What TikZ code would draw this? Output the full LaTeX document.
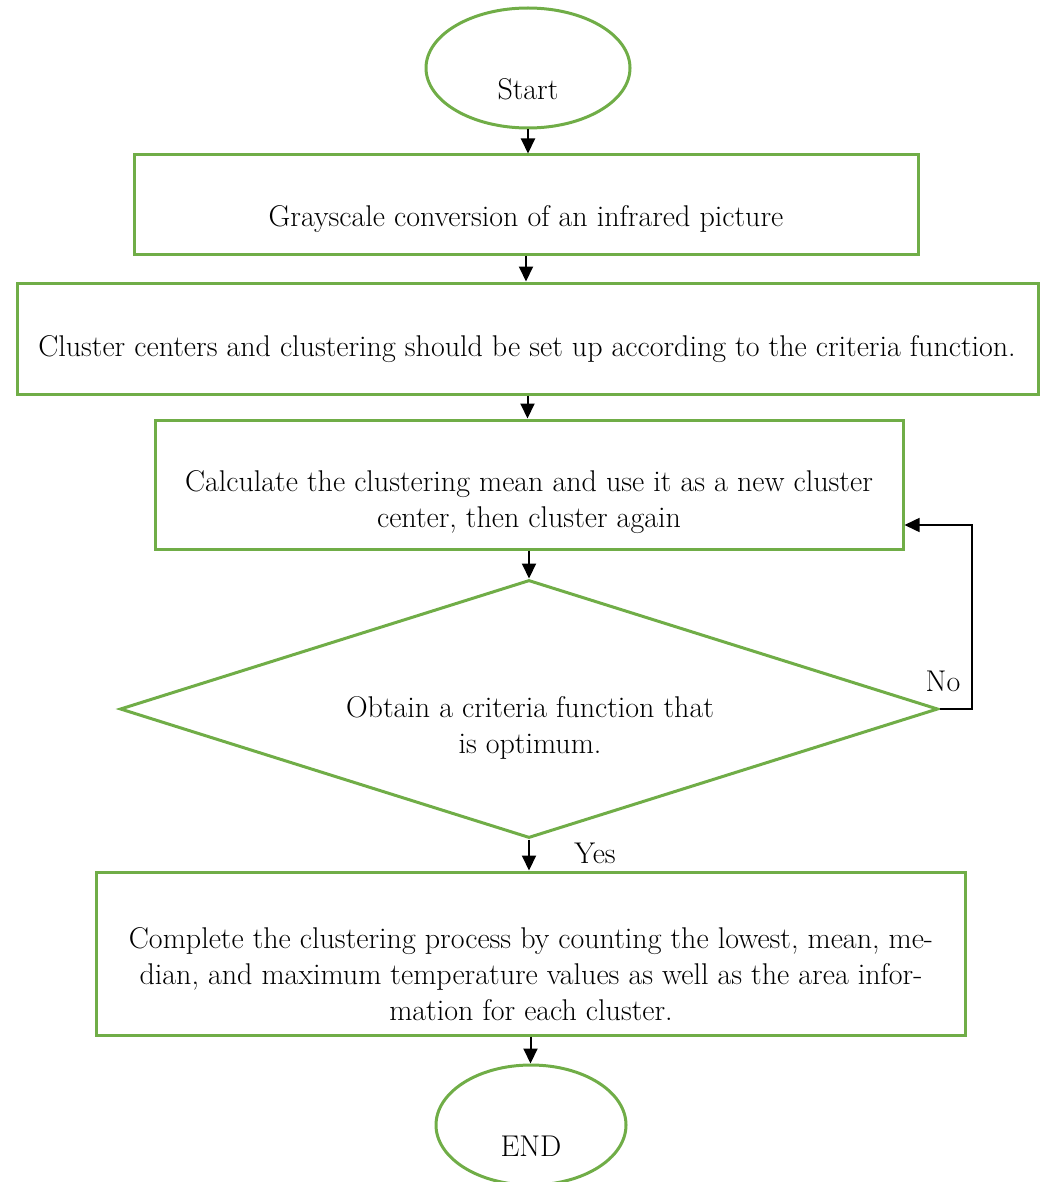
\documentclass[tikz,border=0pt]{standalone}
\usepackage{fontspec}
\usetikzlibrary{arrows.meta,shapes.geometric}
\definecolor{flowgreen}{RGB}{112,173,71}
\tikzstyle{terminal}=[ellipse,draw=flowgreen,line width=3pt,inner sep=0pt]
\tikzstyle{stepbox}=[rectangle,draw=flowgreen,line width=3pt,inner sep=0pt]
\tikzstyle{decision}=[diamond,draw=flowgreen,line width=3pt,inner sep=0pt]
\tikzstyle{txt}=[font=\fontsize{30}{36}\selectfont,align=center,inner sep=0pt]
\tikzstyle{flow} = [draw,line width=2pt,-{Triangle[length=15pt,width=14pt]}]
\tikzstyle{loopline} = [draw,line width=1.6pt,-{Triangle[length=15pt,width=14pt]}]

\begin{document}
\begin{tikzpicture}[x=1pt,y=-1pt]
    \useasboundingbox (0,0) rectangle (1043,1182);

    % shapes
    \node[terminal,minimum width=204pt,minimum height=120pt] (start) at (528,68) {};
    \node[stepbox,minimum width=784pt,minimum height=99pt] (gray) at (526,204.5) {};
    \node[stepbox,minimum width=1021pt,minimum height=111pt] (setup) at (527.5,338.5) {};
    \node[stepbox,minimum width=748pt,minimum height=129pt] (mean) at (529,484.5) {};
    \node[decision,minimum width=818pt,minimum height=258pt] (opt) at (529,709) {};
    \node[stepbox,minimum width=869pt,minimum height=163pt] (done) at (530.5,953.5) {};
    \node[terminal,minimum width=190pt,minimum height=120pt] (stop) at (531,1125) {};

    % texts
    \node[txt] (startT) at (528,89) {Start};
    \node[txt] (grayT) at (526,219) {Grayscale conversion of an infrared picture};
    \node[txt] (setupT) at (527,349) {Cluster centers and clustering should be set up according to the criteria function.};
    \node[txt] (meanT) at (529,502) {Calculate the clustering mean and use it as a new cluster\\center, then cluster again};
    \node[txt] (optT) at (530,728) {Obtain a criteria function that\\is optimum.};
    \node[txt] (doneT) at (531,974) {Complete the clustering process by counting the lowest, mean, me-\\dian, and maximum temperature values as well as the area infor-\\mation for each cluster.};
    \node[txt] (stopT) at (531,1146) {END};
    \node[txt] (no) at (943,681) {No};
    \node[txt] (yes) at (595,853) {Yes};

    % arrows down the chart
    \foreach \source/ \dest in {start/gray, gray/setup, setup/mean, mean/opt, opt/done, done/stop}
        \path[flow] (\source.south) -- (\source.south |- \dest.north);

    % back to the mean step
    \coordinate (back) at (972,525);
    \path[loopline] (opt.east) -| (back) -- (mean.east |- back);
\end{tikzpicture}
\end{document}
